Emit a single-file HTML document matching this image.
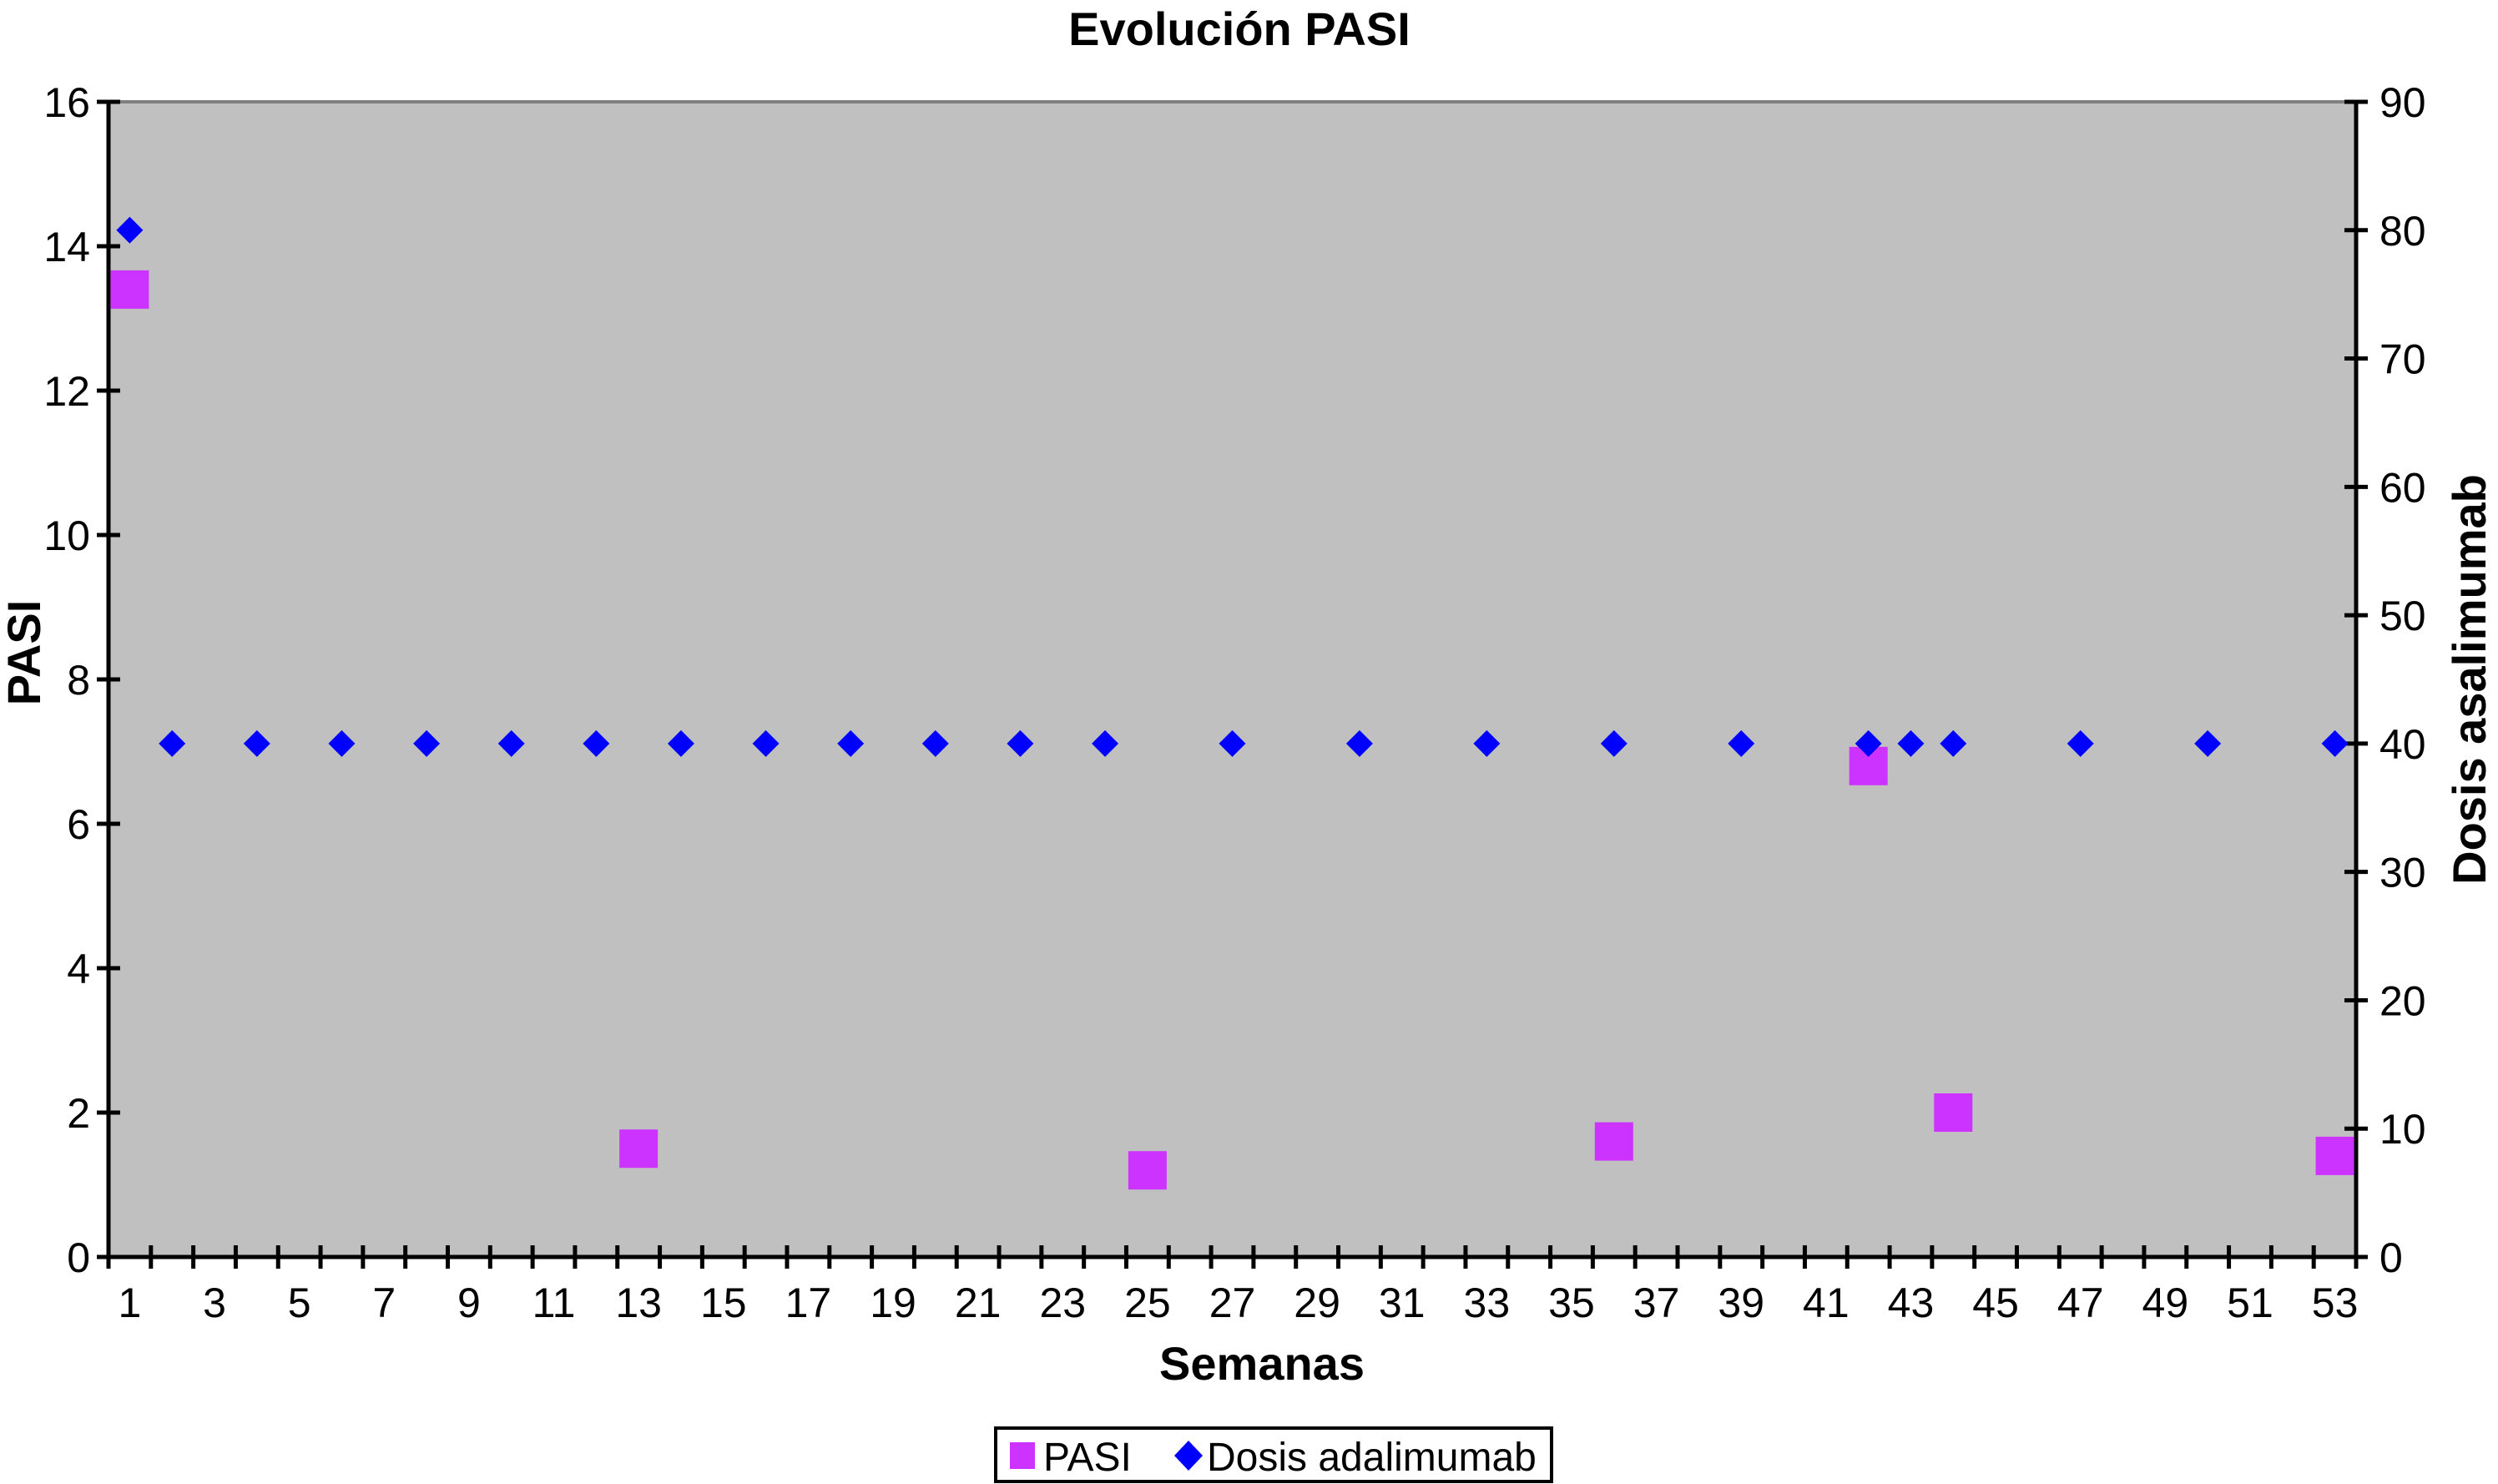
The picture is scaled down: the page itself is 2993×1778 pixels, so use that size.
<!DOCTYPE html>
<html><head><meta charset="utf-8"><style>
html,body{margin:0;padding:0;background:#fff}
svg{display:block;font-family:"Liberation Sans",Arial,sans-serif}
</style></head><body>
<svg id="chart" width="2993" height="1778" viewBox="0 0 2993 1778">
<text x="1485" y="54" font-size="56" font-weight="bold" text-anchor="middle">Evolución PASI</text>
<rect x="130" y="122" width="2693" height="1384" fill="#c0c0c0"/>
<line x1="130" y1="122" x2="2823" y2="122" stroke="#808080" stroke-width="4"/>
<g id="axes"></g>
<g id="marks"></g>
<text transform="translate(48,782) rotate(-90)" font-size="56" font-weight="bold" text-anchor="middle">PASI</text>
<text transform="translate(2978,814) rotate(-90)" font-size="56" font-weight="bold" text-anchor="middle">Dosis asalimumab</text>
<text x="1512" y="1653" font-size="56" font-weight="bold" text-anchor="middle">Semanas</text>
<g>
<rect x="1193" y="1711" width="666" height="64" fill="#fff" stroke="#000" stroke-width="4"/>
<rect x="1210" y="1728" width="30" height="32" fill="#cc33ff"/>
<text x="1250" y="1762" font-size="48">PASI</text>
<polygon points="1424,1726 1441,1744 1424,1762 1407,1744" fill="#0000ff"/>
<text x="1446" y="1762" font-size="48">Dosis adalimumab</text>
</g>
</svg>
<script>
const weekCount = 53;
const pasiWeeks = [1, 13, 25, 36, 42, 44, 53];
const pasiValues = [13.4, 1.5, 1.2, 1.6, 6.8, 2.0, 1.4];
const doseWeeks = [1,2,4,6,8,10,12,14,16,18,20,22,24,27,30,33,36,39,42,43,44,47,50,53];
const doseValues = [80,40,40,40,40,40,40,40,40,40,40,40,40,40,40,40,40,40,40,40,40,40,40,40];
const leftTicks = [0,2,4,6,8,10,12,14,16];
const rightTicks = [0,10,20,30,40,50,60,70,80,90];

const NS = "http://www.w3.org/2000/svg";
const L = 130, R = 2823, T = 122, B = 1506;
const bw = (R - L) / weekCount;
const xC = c => L + bw * (c - 0.5);
const yL = v => B - (v / 16) * (B - T);
const yR = v => B - (v / 90) * (B - T);
function mk(tag, attrs, parent) {
  const e = document.createElementNS(NS, tag);
  for (const k in attrs) e.setAttribute(k, attrs[k]);
  parent.appendChild(e);
  return e;
}
const axes = document.getElementById('axes');
const marks = document.getElementById('marks');
let e;
e = mk('line', {x1:L,y1:T,x2:L,y2:B+2,stroke:'#000','stroke-width':5}, axes);


e = mk('line', {x1:R,y1:T,x2:R,y2:B+2,stroke:'#000','stroke-width':5}, axes);


e = mk('line', {x1:L-14,y1:B,x2:R+14,y2:B,stroke:'#000','stroke-width':5}, axes);


leftTicks.forEach(v => {
  const y = yL(v);
  e = mk('line', {x1:L-14,y1:y,x2:L+14,y2:y,stroke:'#000','stroke-width':5}, axes);
  
  
  e = mk('text', {x:L-22,y:y+18,'font-size':50,'text-anchor':'end'}, axes);
  e.textContent = v;
  
  
});
rightTicks.forEach(v => {
  const y = yR(v);
  e = mk('line', {x1:R-14,y1:y,x2:R+14,y2:y,stroke:'#000','stroke-width':5}, axes);
  
  
  e = mk('text', {x:R+28,y:y+18,'font-size':50,'text-anchor':'start'}, axes);
  e.textContent = v;
  
  
});
for (let i = 0; i <= weekCount; i++) {
  const x = L + bw * i;
  e = mk('line', {x1:x,y1:B-14,x2:x,y2:B+14,stroke:'#000','stroke-width':5}, axes);
  
  
}
for (let c = 1; c <= weekCount; c += 2) {
  e = mk('text', {x:xC(c),y:B+72,'font-size':50,'text-anchor':'middle'}, axes);
  e.textContent = c;
  
  
}
pasiWeeks.forEach((w, i) => {
  const x = xC(w), y = yL(pasiValues[i]), s = 46;
  e = mk('rect', {x:x-s/2,y:y-s/2,width:s,height:s,fill:'#cc33ff'}, marks);
  
  
});
doseWeeks.forEach((w, i) => {
  const x = xC(w), y = yR(doseValues[i]), h = 16;
  e = mk('polygon', {points:`${x},${y-h} ${x+h},${y} ${x},${y+h} ${x-h},${y}`,fill:'#0000ff'}, marks);
  
  
});
</script>
</body></html>
